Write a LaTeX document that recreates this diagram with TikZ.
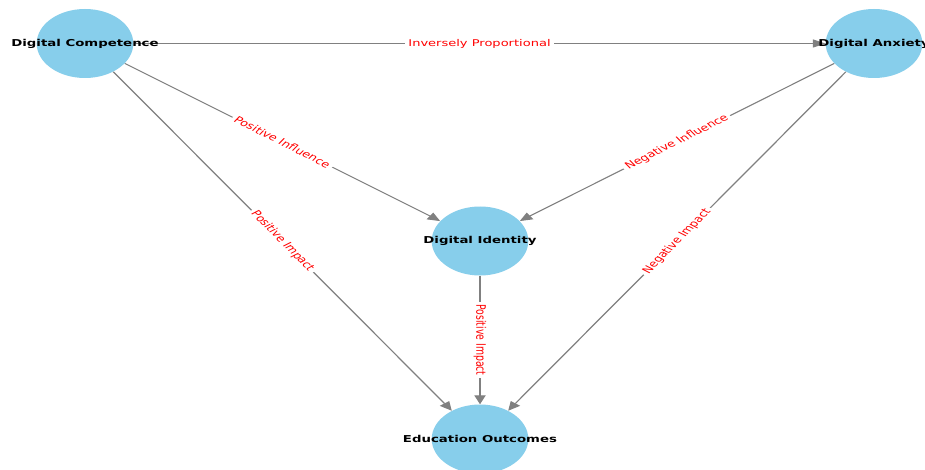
\documentclass[tikz,border=0pt]{standalone}
\usepackage{fontspec}
\setmainfont{DejaVu Sans}
\usetikzlibrary{arrows.meta}
\pgfdeclarelayer{edgelayer}
\pgfsetlayers{edgelayer,main}
\definecolor{nodefill}{HTML}{87CEEB}
\definecolor{edgegray}{HTML}{808080}
\definecolor{labelred}{HTML}{FF0000}
\tikzset{
  entity/.style={circle, fill=nodefill, minimum size=69pt, inner sep=0pt,
    label={[font=\fontsize{9.5}{11}\selectfont\bfseries, text=black]center:#1}},
  link/.style={draw=edgegray, line width=1pt,
    -{Triangle[length=9pt, width=8pt]}},
  rel/.style={font=\fontsize{9.3}{11}\selectfont, text=labelred, fill=white,
    inner sep=2.5pt},
  stretched/.style={transform canvas={xscale=1.4}}
}
\begin{document}
\begin{tikzpicture}[x=1pt, y=-1pt]
  \useasboundingbox (0,0) rectangle (925,470);
  \clip (0,0) rectangle (925,470);
  % concept nodes
  \begin{scope}[stretched]
    \node[entity={Digital Competence}] (dc) at (60.71,43.5) {};
    \node[entity={Digital Anxiety}]    (da) at (624.29,43.5) {};
    \node[entity={Digital Identity}]   (di) at (342.86,241) {};
    \node[entity={Education Outcomes}] (eo) at (342.86,439) {};
  \end{scope}
  % white ground and relations, kept beneath the nodes
  \begin{pgfonlayer}{edgelayer}
    \fill[white] (0,0) rectangle (925,470);
    \begin{scope}[stretched]
      \draw[link] (dc) -- node[rel, sloped] {Inversely Proportional} (da);
      \draw[link] (dc) -- node[rel, sloped] {Positive Influence} (di);
      \draw[link] (dc) -- node[rel, sloped] {Positive Impact} (eo);
      \draw[link] (da) -- node[rel, sloped] {Negative Influence} (di);
      \draw[link] (da) -- node[rel, sloped] {Negative Impact} (eo);
      \draw[link] (di) -- node[rel, rotate=-90] {Positive Impact} (eo);
    \end{scope}
  \end{pgfonlayer}
\end{tikzpicture}
\end{document}
